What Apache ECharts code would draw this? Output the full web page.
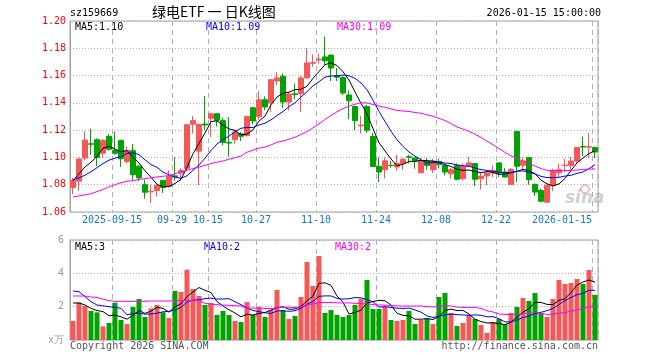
<!DOCTYPE html>
<html>
<head>
<meta charset="utf-8">
<script src="https://cdn.jsdelivr.net/npm/echarts@6/dist/echarts.min.js"></script>
<style>
html,body{margin:0;padding:0;background:#fff;}
#chart{width:660px;height:360px;}
</style>
</head>
<body>
<div id="chart"></div>
<script>
// ---- data ----
const dates = [
'2025-09-04','2025-09-05','2025-09-08','2025-09-09','2025-09-10','2025-09-11','2025-09-12','2025-09-15','2025-09-16','2025-09-17',
'2025-09-18','2025-09-19','2025-09-22','2025-09-23','2025-09-24','2025-09-25','2025-09-26','2025-09-29','2025-09-30','2025-10-09',
'2025-10-10','2025-10-13','2025-10-14','2025-10-15','2025-10-16','2025-10-17','2025-10-20','2025-10-21','2025-10-22','2025-10-23',
'2025-10-24','2025-10-27','2025-10-28','2025-10-29','2025-10-30','2025-10-31','2025-11-03','2025-11-04','2025-11-05','2025-11-06',
'2025-11-07','2025-11-10','2025-11-11','2025-11-12','2025-11-13','2025-11-14','2025-11-17','2025-11-18','2025-11-19','2025-11-20',
'2025-11-21','2025-11-24','2025-11-25','2025-11-26','2025-11-27','2025-11-28','2025-12-01','2025-12-02','2025-12-03','2025-12-04',
'2025-12-05','2025-12-08','2025-12-09','2025-12-10','2025-12-11','2025-12-12','2025-12-15','2025-12-16','2025-12-17','2025-12-18',
'2025-12-19','2025-12-22','2025-12-23','2025-12-24','2025-12-25','2025-12-26','2025-12-29','2025-12-30','2025-12-31','2026-01-05',
'2026-01-06','2026-01-07','2026-01-08','2026-01-09','2026-01-12','2026-01-13','2026-01-14','2026-01-15'];

const openP = [
1.078,1.0826,1.0995,1.110,1.113,1.103,1.1155,1.105,1.1125,1.097,
1.105,1.0935,1.080,1.0748,1.0758,1.0832,1.0788,1.0865,1.0885,1.092,
1.1243,1.1046,1.1245,1.1287,1.132,1.127,1.111,1.113,1.1173,1.116,
1.1364,1.130,1.1423,1.140,1.1561,1.1595,1.1406,1.1466,1.1467,1.1583,
1.169,1.1715,1.1737,1.175,1.160,1.1585,1.1458,1.1373,1.1233,1.1373,
1.1153,1.0934,1.091,1.0942,1.093,1.0954,1.1005,1.0996,1.0888,1.0974,
1.091,1.097,1.0942,1.088,1.0942,1.0844,1.0935,1.0955,1.0844,1.0864,
1.0885,1.096,1.0893,1.0802,1.119,1.0942,1.0999,1.0802,1.0758,1.0672,
1.0795,1.0887,1.094,1.0942,1.0974,1.108,1.1075,1.1072];
const closeP = [
1.083,1.0988,1.1127,1.1097,1.100,1.1125,1.106,1.103,1.099,1.105,
1.0875,1.085,1.0745,1.0752,1.0795,1.078,1.086,1.0858,1.0905,1.124,
1.127,1.1243,1.1238,1.132,1.1272,1.111,1.1105,1.1185,1.1155,1.130,
1.1267,1.1423,1.137,1.157,1.1583,1.1406,1.1465,1.1462,1.1583,1.1693,
1.1695,1.172,1.1708,1.1655,1.1588,1.1472,1.1415,1.127,1.1237,1.120,
1.0934,1.0893,1.0975,1.094,1.0955,1.0986,1.100,1.0975,1.0975,1.0942,
1.0974,1.0948,1.0893,1.091,1.084,1.0935,1.096,1.084,1.0863,1.0885,
1.0905,1.0885,1.0856,1.0912,1.0935,1.0974,1.0837,1.0746,1.0679,1.0795,
1.090,1.091,1.0944,1.0974,1.1072,1.1076,1.1079,1.104];
const lowP = [
1.073,1.0755,1.098,1.102,1.0935,1.100,1.105,1.102,1.093,1.0955,
1.083,1.0826,1.0698,1.0666,1.0713,1.074,1.078,1.083,1.083,1.0905,
1.1175,1.0798,1.120,1.115,1.1227,1.1087,1.1006,1.110,1.112,1.1153,
1.1242,1.1276,1.1345,1.1333,1.153,1.1364,1.1345,1.1426,1.1333,1.1578,
1.1664,1.1688,1.1676,1.156,1.156,1.1458,1.128,1.120,1.1175,1.118,
1.093,1.082,1.0845,1.0925,1.0905,1.091,1.0955,1.0918,1.0882,1.091,
1.0885,1.092,1.0868,1.0845,1.0835,1.0832,1.093,1.079,1.0766,1.0795,
1.0856,1.0856,1.0855,1.080,1.082,1.091,1.080,1.0717,1.0672,1.0668,
1.0753,1.0856,1.0893,1.091,1.0955,1.1008,1.0995,1.0995];
const highP = [
1.085,1.100,1.119,1.121,1.114,1.1135,1.117,1.119,1.113,1.108,
1.110,1.0945,1.0837,1.080,1.081,1.0835,1.0905,1.100,1.092,1.1245,
1.1303,1.1245,1.145,1.1325,1.1325,1.129,1.1296,1.120,1.1185,1.1305,
1.137,1.1485,1.1448,1.1575,1.1625,1.1615,1.148,1.154,1.160,1.180,
1.1755,1.1762,1.1885,1.1755,1.1655,1.1595,1.149,1.1375,1.1303,1.1385,
1.118,1.100,1.100,1.0975,1.102,1.0995,1.102,1.100,1.0997,1.0995,
1.099,1.099,1.0955,1.0922,1.0955,1.0955,1.1003,1.0958,1.0888,1.0905,
1.0942,1.096,1.0922,1.0922,1.119,1.0999,1.100,1.081,1.077,1.0802,
1.0918,1.0955,1.099,1.1003,1.1075,1.1152,1.118,1.108];

// volume, in units of 万
const volume = [
1.14,2.26,2.04,1.74,1.66,0.82,1.02,2.24,1.2,0.96,
1.98,2.46,1.38,1.9,2.1,1.66,1.32,2.94,2.88,4.22,
3.06,2.64,2.1,2.22,1.5,1.74,1.5,1.14,1.08,2.28,
1.5,2.0,1.38,1.8,3.0,1.8,1.26,1.44,2.58,4.68,
3.24,5.04,1.62,1.8,1.5,1.38,1.5,2.1,2.48,3.6,
1.86,1.86,1.98,1.2,1.14,1.2,1.74,0.96,1.2,1.3,
0.96,2.58,2.82,1.62,0.84,1.02,1.5,1.26,0.9,0.42,
1.08,1.26,0.96,1.62,1.98,2.52,2.34,2.82,1.62,1.38,
2.46,3.6,3.36,3.42,3.66,3.36,4.2,2.7];

// moving-average values before enough history is visible
const priceMA5Head  = [1.083,1.088,1.093,1.0965];
const priceMA10Head = [1.0835,1.085,1.087,1.0895,1.0925,1.0955,1.098,1.0995,1.1005];
const priceMA30Head = [1.071,1.0718,1.0726,1.0734,1.075,1.0765,1.0785,1.080,1.0815,1.0825,
                       1.083,1.0838,1.0845,1.085,1.0857,1.0862,1.0867,1.0881,1.0893,1.0906,
                       1.0918,1.093,1.0942,1.0955,1.0965,1.0974,1.0987,1.0998,1.101];
const volMA5Head  = [2.22,2.22,2.1,1.9];
const volMA10Head = [2.94,2.9,2.6,2.3,2.1,2.05,2.0,1.96,1.9];
const volMA30Head = [2.64,2.64,2.64,2.58,2.55,2.45,2.36,2.32,2.32,2.32,
                     2.32,2.32,2.32,2.34,2.34,2.34,2.34,2.36,2.36,2.38,
                     2.38,2.38,2.2,2.15,2.12,2.1,2.08,2.06,2.04];

const xTickDates  = ['2025-09-15','2025-09-29','2025-10-15','2025-10-27','2025-11-10','2025-11-24','2025-12-08','2025-12-22','2026-01-15'];
const xTickLabels = ['2025-09-15','09-29','10-15','10-27','11-10','11-24','12-08','12-22','2026-01-15'];

const priceMin = 1.06, priceMax = 1.20, priceStep = 0.02;
const volMin = 0, volMax = 6, volStep = 2;

const titleCode = 'sz159669';
const titleName = '绿电ETF 一 日K线图';
const titleTime = '2026-01-15 15:00:00';
const priceLegend = ['MA5:1.10','MA10:1.09','MA30:1.09'];
const volLegend = ['MA5:3','MA10:2','MA30:2'];
const footLeft = 'Copyright 2026 SINA.COM';
const footRight = 'http://finance.sina.com.cn';

// ---- helpers ----
function movingAvg(arr, n, head) {
  return arr.map((_, i) => {
    if (i < head.length) return head[i];
    let s = 0;
    for (let k = i - n + 1; k <= i; k++) s += arr[k];
    return +(s / n).toFixed(5);
  });
}

const UP = '#f65858', DOWN = '#00a300';
const MONO = '"DejaVu Sans Mono", "Liberation Mono", monospace';

const kData = dates.map((d, i) => [openP[i], closeP[i], lowP[i], highP[i]]);
const volData = volume.map((v, i) => ({
  value: v,
  itemStyle: { color: closeP[i] >= openP[i] ? UP : DOWN }
}));

const pMA5 = movingAvg(closeP, 5, priceMA5Head);
const pMA10 = movingAvg(closeP, 10, priceMA10Head);
const pMA30 = movingAvg(closeP, 30, priceMA30Head);
const vMA5 = movingAvg(volume, 5, volMA5Head);
const vMA10 = movingAvg(volume, 10, volMA10Head);
const vMA30 = movingAvg(volume, 30, volMA30Head);

const isTick = (idx, val) => xTickDates.indexOf(val) >= 0;
const lastTick = xTickDates[xTickDates.length - 1];

const chart = echarts.init(document.getElementById('chart'), null, { renderer: 'canvas' });

function maLine(name, data, color, xi, yi) {
  return {
    name, type: 'line', data, xAxisIndex: xi, yAxisIndex: yi,
    symbol: 'none', smooth: false, silent: true,
    lineStyle: { color, width: 1 }, itemStyle: { color },
    z: 5
  };
}

const vDash = { show: true, interval: isTick, lineStyle: { color: '#b0b0b0', type: [5, 4], width: 1 } };
const hDot = { show: true, lineStyle: { color: '#b4b4b4', type: [1, 2], width: 1 } };

chart.setOption({
  animation: false,
  backgroundColor: '#fff',
  grid: [
    { left: 70, top: 21, width: 528, height: 191, show: true, borderColor: '#a0a0a0', borderWidth: 1, backgroundColor: 'transparent', containLabel: false, outerBoundsMode: 'none' },
    { left: 70, top: 240, width: 528, height: 100, show: true, borderColor: '#a0a0a0', borderWidth: 1, backgroundColor: 'transparent', containLabel: false, outerBoundsMode: 'none' }
  ],
  xAxis: [
    {
      type: 'category', gridIndex: 0, data: dates, boundaryGap: true,
      axisLine: { show: false }, axisTick: { show: false },
      axisLabel: {
        show: true, interval: isTick, color: '#1479d2', fontFamily: MONO, fontSize: 10,
        margin: 3, padding: [0, 6, 0, 0],
        formatter: v => {
          const t = xTickLabels[xTickDates.indexOf(v)];
          return v === lastTick ? '{r|' + t + '}' : t;
        },
        rich: { r: { color: '#1479d2', fontFamily: MONO, fontSize: 10, padding: [0, 60, 0, 0] } }
      },
      splitLine: vDash
    },
    {
      type: 'category', gridIndex: 1, data: dates, boundaryGap: true,
      axisLine: { show: false }, axisTick: { show: false }, axisLabel: { show: false },
      splitLine: vDash
    }
  ],
  yAxis: [
    {
      type: 'value', gridIndex: 0, min: priceMin, max: priceMax, interval: priceStep, scale: true,
      axisLine: { show: true, lineStyle: { color: '#a0a0a0' } }, axisTick: { show: false },
      axisLabel: { color: '#ff0000', fontFamily: MONO, fontSize: 10, margin: 4, formatter: v => v.toFixed(2) },
      splitLine: hDot
    },
    {
      type: 'value', gridIndex: 1, min: volMin, max: volMax, interval: volStep,
      axisLine: { show: true, lineStyle: { color: '#a0a0a0' } }, axisTick: { show: false },
      axisLabel: { color: '#9a9a9a', fontFamily: MONO, fontSize: 10, margin: 6, formatter: v => v === 0 ? 'x万' : String(v) },
      splitLine: hDot
    }
  ],
  series: [
    {
      name: 'K', type: 'candlestick', xAxisIndex: 0, yAxisIndex: 0, data: kData,
      barWidth: 5,
      itemStyle: { color: UP, color0: DOWN, borderColor: UP, borderColor0: DOWN, borderWidth: 1 },
      z: 3
    },
    maLine('MA5', pMA5, '#000000', 0, 0),
    maLine('MA10', pMA10, '#0000ff', 0, 0),
    maLine('MA30', pMA30, '#ff00ff', 0, 0),
    {
      name: 'VOL', type: 'bar', xAxisIndex: 1, yAxisIndex: 1, data: volData,
      barWidth: 5, z: 3
    },
    maLine('VMA5', vMA5, '#000000', 1, 1),
    maLine('VMA10', vMA10, '#0000ff', 1, 1),
    maLine('VMA30', vMA30, '#ff00ff', 1, 1)
  ],
  graphic: [
    { type: 'text', left: 70, top: 8, style: { text: titleCode, font: '10px ' + MONO, fill: '#000' } },
    { type: 'text', left: 152, top: 5, style: { text: titleName, font: '14px "Noto Sans CJK SC"', fill: '#000' } },
    { type: 'text', right: 59, top: 8, style: { text: titleTime, font: '10px ' + MONO, fill: '#000' } },
    { type: 'text', left: 75, top: 22, style: { text: priceLegend[0], font: '10px ' + MONO, fill: '#000' } },
    { type: 'text', left: 206, top: 22, style: { text: priceLegend[1], font: '10px ' + MONO, fill: '#0000ff' } },
    { type: 'text', left: 337, top: 22, style: { text: priceLegend[2], font: '10px ' + MONO, fill: '#ff00ff' } },
    { type: 'text', left: 75, top: 242, style: { text: volLegend[0], font: '10px ' + MONO, fill: '#000' } },
    { type: 'text', left: 204, top: 242, style: { text: volLegend[1], font: '10px ' + MONO, fill: '#0000ff' } },
    { type: 'text', left: 335, top: 242, style: { text: volLegend[2], font: '10px ' + MONO, fill: '#ff00ff' } },
    { type: 'text', left: 70, top: 341, style: { text: footLeft, font: '10px ' + MONO, fill: '#555' } },
    { type: 'text', right: 62, top: 341, style: { text: footRight, font: '10px ' + MONO, fill: '#555' } },
    { type: 'circle', shape: { cx: 585, cy: 189, r: 4 }, style: { fill: 'none', stroke: 'rgba(225,110,110,0.45)', lineWidth: 2 }, z: 1 },
    { type: 'text', left: 565, top: 190, style: { text: 'sina', font: 'italic bold 17px "DejaVu Sans"', fill: 'rgba(170,170,170,0.55)' }, z: 1 }
  ]
});
</script>
</body>
</html>
